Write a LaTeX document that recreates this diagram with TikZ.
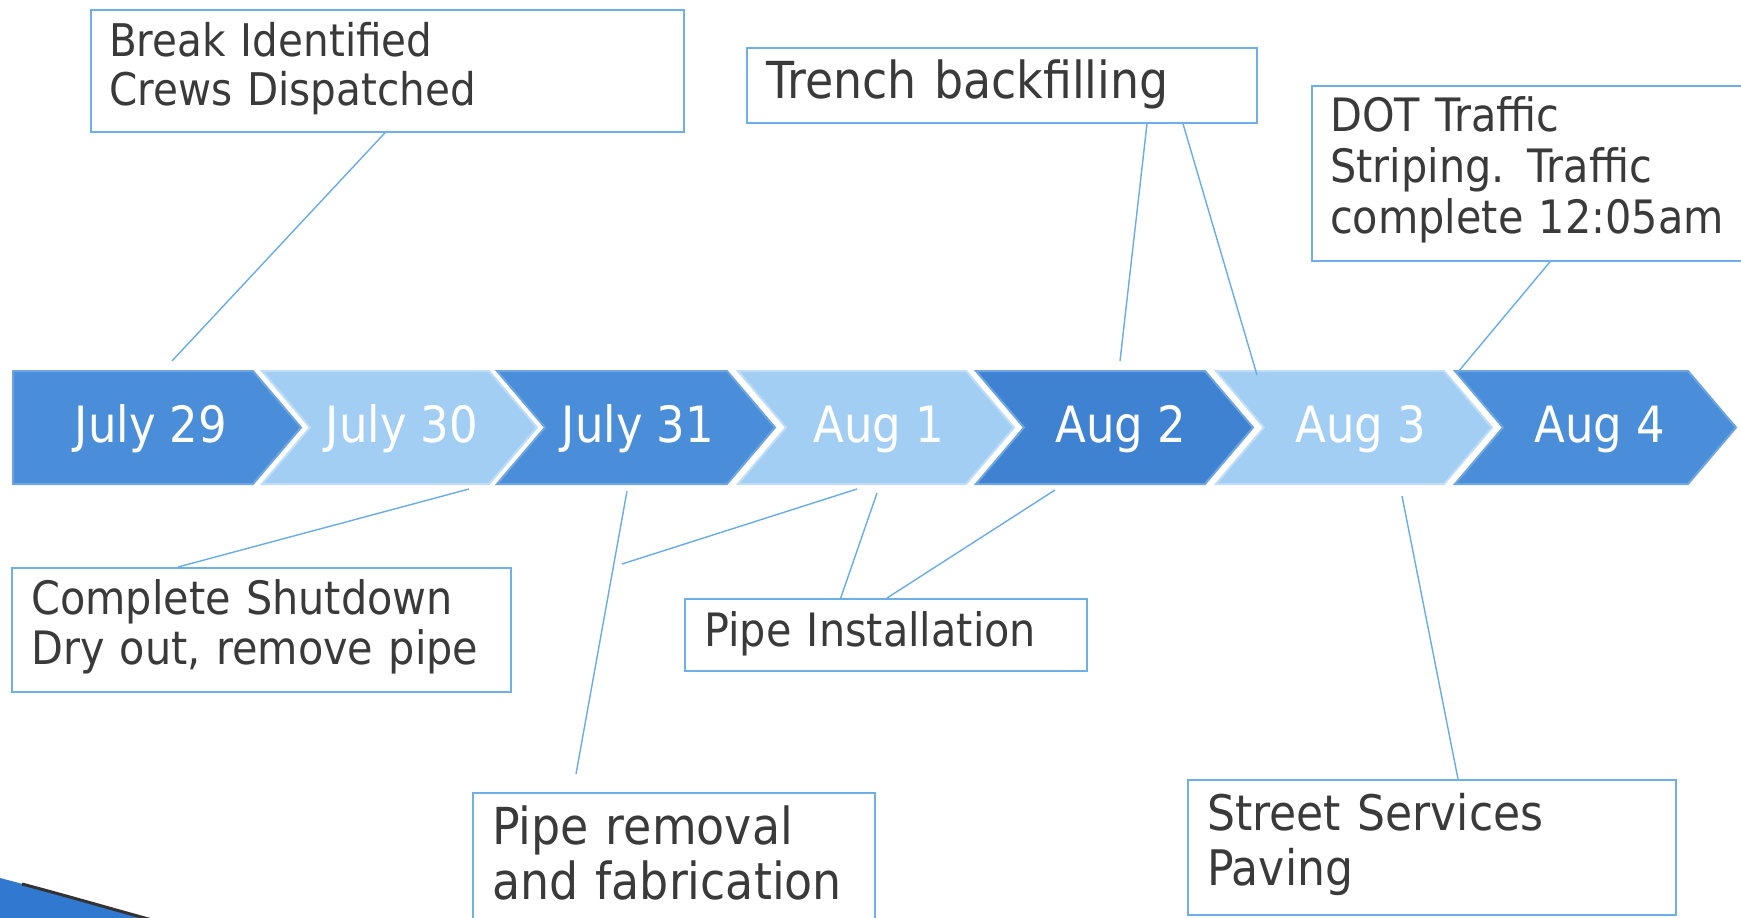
\documentclass[tikz,border=0pt]{standalone}
\usepackage{fontspec}
\setmainfont{DejaVu Sans}[FakeStretch=0.9]
\usetikzlibrary{calc}
\definecolor{chevdark}{RGB}{74,142,217}
\definecolor{chevdarker}{RGB}{64,130,210}
\definecolor{chevlight}{RGB}{163,206,244}
\definecolor{boxline}{RGB}{110,175,232}
\definecolor{connline}{RGB}{105,172,232}
\definecolor{txt}{RGB}{58,58,58}
\definecolor{swoosh}{RGB}{48,120,208}
\begin{document}
\begin{tikzpicture}[x=1pt,y=-1pt,
  box/.style={draw=boxline, line width=1.8pt, inner sep=0pt, anchor=north west},
  lbl/.style={text=txt, anchor=base west, inner sep=0pt, align=left, text width=600pt},
  conn/.style={draw=connline, line width=1.4pt},
  datetxt/.style={text=white, anchor=base, inner sep=0pt, font=\fontsize{50}{50}\selectfont},
  chevd/.style={fill=chevdark, draw=chevdark!80!white, line width=2pt, line join=miter},
  chevl/.style={fill=chevlight, draw=chevlight!70!white, line width=2pt, line join=miter},
]
\useasboundingbox (0,0) rectangle (1741,918);
\clip (0,0) rectangle (1741,918);
\fill[white] (0,0) rectangle (1741,918);

% bottom-left swoosh
\fill[swoosh] (0,878) .. controls (50,891) and (100,906) .. (148,920) -- (0,920) -- cycle;
\draw[black!80, line width=3pt] (22,884) .. controls (60,894) and (105,907) .. (152,920);

% chevrons
\draw[chevd] (13,371) -- (253,371) -- (301,427.5) -- (253,484) -- (13,484) -- cycle;
\draw[chevl] (262,371) -- (489,371) -- (537,427.5) -- (489,484) -- (262,484) -- (310,427.5) -- cycle;
\draw[chevd] (497,371) -- (727,371) -- (775,427.5) -- (727,484) -- (497,484) -- (545,427.5) -- cycle;
\draw[chevl] (738,371) -- (966,371) -- (1014,427.5) -- (966,484) -- (738,484) -- (786,427.5) -- cycle;
\draw[chevd, fill=chevdarker] (976,371) -- (1205,371) -- (1253,427.5) -- (1205,484) -- (976,484) -- (1024,427.5) -- cycle;
\draw[chevl] (1216,371) -- (1444,371) -- (1492,427.5) -- (1444,484) -- (1216,484) -- (1264,427.5) -- cycle;
\draw[chevd] (1455,371) -- (1688,371) -- (1736,427.5) -- (1688,484) -- (1455,484) -- (1503,427.5) -- cycle;

\node[datetxt] (d1) at (151,442) {July 29};
\node[datetxt] (d2) at (402,442) {July 30};
\node[datetxt] (d3) at (638,442) {July 31};
\node[datetxt] (d4) at (879,442) {Aug 1};
\node[datetxt] (d5) at (1121,442) {Aug 2};
\node[datetxt] (d6) at (1361,442) {Aug 3};
\node[datetxt] (d7) at (1600,442) {Aug 4};

% boxes
\node[box, minimum width=593pt, minimum height=122pt] (b1) at (90,9) {};
\node[box, minimum width=510pt, minimum height=75pt] (b2) at (746,47) {};
\node[box, minimum width=470pt, minimum height=175pt] (b3) at (1311,85) {};
\node[box, minimum width=499pt, minimum height=124pt] (b4) at (11,567) {};
\node[box, minimum width=402pt, minimum height=72pt] (b5) at (684,598) {};
\node[box, minimum width=402pt, minimum height=160pt] (b6) at (472,792) {};
\node[box, minimum width=488pt, minimum height=135pt] (b7) at (1187,779) {};

% labels
\node[lbl, font=\fontsize{45}{49}\selectfont] (t1) at (109,56) {Break Identified\\Crews Dispatched};
\node[lbl, font=\fontsize{51}{51}\selectfont] (t2) at (766,98) {Trench backfilling};
\node[lbl, font=\fontsize{46}{51}\selectfont] (t3) at (1330,131) {DOT Traffic\\Striping. Traffic\\complete 12:05am};
\node[lbl, font=\fontsize{46}{50}\selectfont] (t4) at (31,614) {Complete Shutdown\\Dry out, remove pipe};
\node[lbl, font=\fontsize{46}{50}\selectfont] (t5) at (704,646) {Pipe Installation};
\node[lbl, font=\fontsize{51}{55}\selectfont] (t6) at (492,844) {Pipe removal\\and fabrication};
\node[lbl, font=\fontsize{49}{55}\selectfont] (t7) at (1207,830) {Street Services\\Paving};

% connector end points
\coordinate (b1s) at ($(b1.south west)+(295,0)$);
\coordinate (c1t) at (172,361);
\coordinate (b2sa) at ($(b2.south west)+(401,0)$);
\coordinate (b2sb) at ($(b2.south west)+(437,0)$);
\coordinate (c5t) at (1120,361);
\coordinate (c6t) at (1257,375);
\coordinate (b3s) at ($(b3.south west)+(239,0)$);
\coordinate (c7t) at (1458,372);
\coordinate (b4n) at ($(b4.north west)+(167,0)$);
\coordinate (c2b) at (469,489);
\coordinate (c3b) at (627,491);
\coordinate (b6n) at (576,774);
\coordinate (fa) at (622,564);
\coordinate (c4b) at (857,489);
\coordinate (b5na) at ($(b5.north west)+(156,2)$);
\coordinate (c4bb) at (877,493);
\coordinate (b5nb) at ($(b5.north west)+(203,0)$);
\coordinate (c5b) at (1055,490);
\coordinate (c6b) at (1402,496);
\coordinate (b7n) at ($(b7.north west)+(271,0)$);

% connectors
\draw[conn] (b1s) -- (c1t);
\draw[conn] (b2sa) -- (c5t);
\draw[conn] (b2sb) -- (c6t);
\draw[conn] (b3s) -- (c7t);
\draw[conn] (b4n) -- (c2b);
\draw[conn] (c3b) -- (b6n);
\draw[conn] (fa) -- (c4b);
\draw[conn] (b5na) -- (c4bb);
\draw[conn] (b5nb) -- (c5b);
\draw[conn] (c6b) -- (b7n);
\end{tikzpicture}
\end{document}
